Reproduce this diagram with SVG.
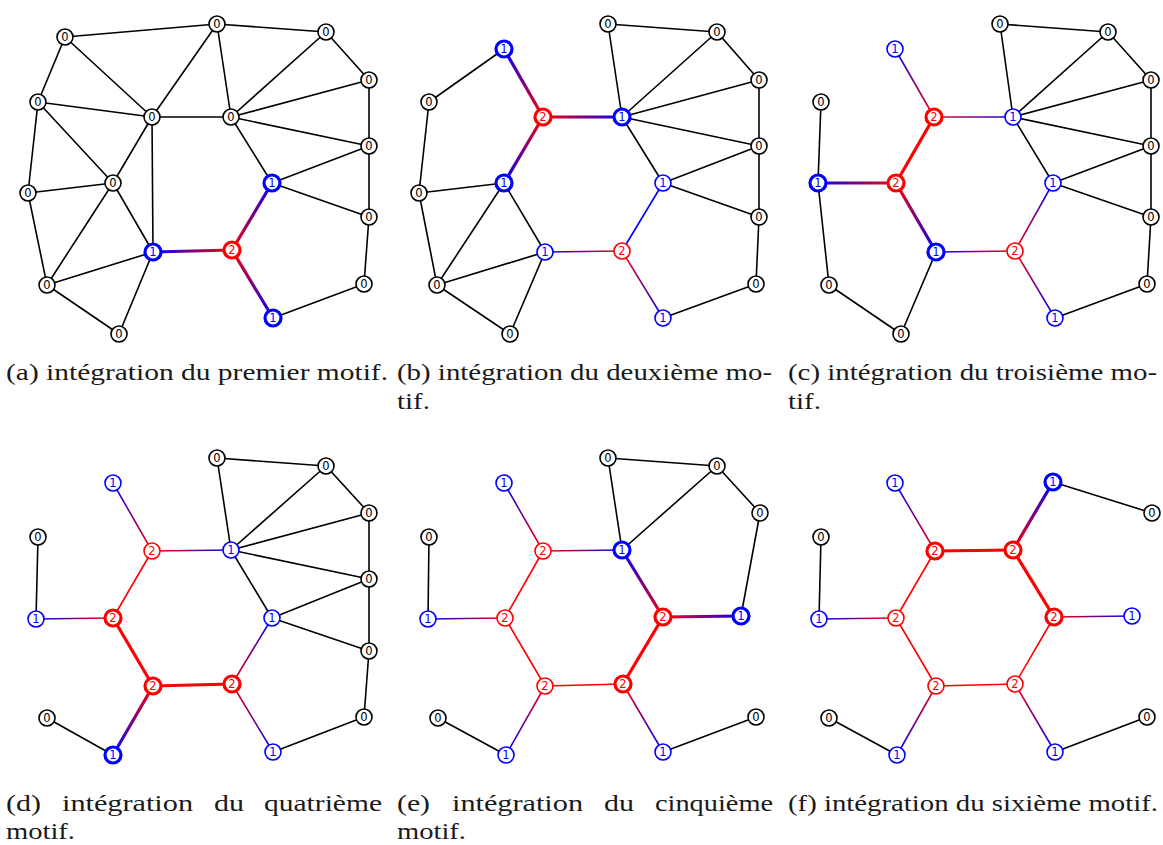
<svg xmlns="http://www.w3.org/2000/svg" xmlns:xlink="http://www.w3.org/1999/xlink" width="1163" height="845" viewBox="0 0 1163 845">
<style>
.ed line{stroke-width:1.6;stroke-linecap:round}
.k{stroke:#000}
.rs{stroke:#f00}
.bs{stroke:#00f}
.T{stroke-width:3.2 !important}
.n circle{fill:#fff;stroke-width:1.6}
.n text{font-family:"DejaVu Sans",sans-serif;font-size:11.5px;text-anchor:middle}
.n0 circle{stroke:#000}.n0 text{fill:#000}
.n1 circle{stroke:#00f}.n1 text{fill:#00f}
.n2 circle{stroke:#f00}.n2 text{fill:#f00}
.nT circle{stroke-width:3.2}
.cap{font-family:"Liberation Serif","Times New Roman",serif;font-size:24px;fill:#1a1a1a}
</style>
<defs>
<linearGradient id="g"><stop offset="0" stop-color="#00f"/><stop offset="1" stop-color="#f00"/></linearGradient>
<linearGradient id="ga1" href="#g" xlink:href="#g" gradientUnits="userSpaceOnUse" x1="153" y1="252" x2="232" y2="250"/>
<linearGradient id="ga2" href="#g" xlink:href="#g" gradientUnits="userSpaceOnUse" x1="272" y1="183" x2="232" y2="250"/>
<linearGradient id="ga3" href="#g" xlink:href="#g" gradientUnits="userSpaceOnUse" x1="273" y1="318" x2="232" y2="250"/>
<linearGradient id="gb1" href="#g" xlink:href="#g" gradientUnits="userSpaceOnUse" x1="504" y1="49" x2="543" y2="117"/>
<linearGradient id="gb2" href="#g" xlink:href="#g" gradientUnits="userSpaceOnUse" x1="622" y1="117" x2="543" y2="117"/>
<linearGradient id="gb3" href="#g" xlink:href="#g" gradientUnits="userSpaceOnUse" x1="504" y1="183" x2="543" y2="117"/>
<linearGradient id="gb4" href="#g" xlink:href="#g" gradientUnits="userSpaceOnUse" x1="545" y1="252" x2="622" y2="251"/>
<linearGradient id="gb5" href="#g" xlink:href="#g" gradientUnits="userSpaceOnUse" x1="663" y1="318" x2="622" y2="251"/>
<linearGradient id="gc1" href="#g" xlink:href="#g" gradientUnits="userSpaceOnUse" x1="895" y1="49" x2="934" y2="117"/>
<linearGradient id="gc2" href="#g" xlink:href="#g" gradientUnits="userSpaceOnUse" x1="1013" y1="117" x2="934" y2="117"/>
<linearGradient id="gc3" href="#g" xlink:href="#g" gradientUnits="userSpaceOnUse" x1="818" y1="183" x2="896" y2="183"/>
<linearGradient id="gc4" href="#g" xlink:href="#g" gradientUnits="userSpaceOnUse" x1="936" y1="252" x2="896" y2="183"/>
<linearGradient id="gc5" href="#g" xlink:href="#g" gradientUnits="userSpaceOnUse" x1="936" y1="252" x2="1015" y2="251"/>
<linearGradient id="gc6" href="#g" xlink:href="#g" gradientUnits="userSpaceOnUse" x1="1053" y1="183" x2="1015" y2="251"/>
<linearGradient id="gc7" href="#g" xlink:href="#g" gradientUnits="userSpaceOnUse" x1="1055" y1="318" x2="1015" y2="251"/>
<linearGradient id="gd1" href="#g" xlink:href="#g" gradientUnits="userSpaceOnUse" x1="113" y1="483" x2="152" y2="551"/>
<linearGradient id="gd2" href="#g" xlink:href="#g" gradientUnits="userSpaceOnUse" x1="231" y1="550" x2="152" y2="551"/>
<linearGradient id="gd3" href="#g" xlink:href="#g" gradientUnits="userSpaceOnUse" x1="36" y1="619" x2="113" y2="618"/>
<linearGradient id="gd4" href="#g" xlink:href="#g" gradientUnits="userSpaceOnUse" x1="272" y1="618" x2="232" y2="684"/>
<linearGradient id="gd5" href="#g" xlink:href="#g" gradientUnits="userSpaceOnUse" x1="273" y1="752" x2="232" y2="684"/>
<linearGradient id="gd6" href="#g" xlink:href="#g" gradientUnits="userSpaceOnUse" x1="113" y1="755" x2="153" y2="686"/>
<linearGradient id="ge1" href="#g" xlink:href="#g" gradientUnits="userSpaceOnUse" x1="504" y1="483" x2="543" y2="551"/>
<linearGradient id="ge2" href="#g" xlink:href="#g" gradientUnits="userSpaceOnUse" x1="622" y1="550" x2="543" y2="551"/>
<linearGradient id="ge3" href="#g" xlink:href="#g" gradientUnits="userSpaceOnUse" x1="428" y1="619" x2="505" y2="618"/>
<linearGradient id="ge4" href="#g" xlink:href="#g" gradientUnits="userSpaceOnUse" x1="506" y1="755" x2="545" y2="686"/>
<linearGradient id="ge5" href="#g" xlink:href="#g" gradientUnits="userSpaceOnUse" x1="663" y1="752" x2="623" y2="684"/>
<linearGradient id="ge6" href="#g" xlink:href="#g" gradientUnits="userSpaceOnUse" x1="622" y1="550" x2="663" y2="617"/>
<linearGradient id="ge7" href="#g" xlink:href="#g" gradientUnits="userSpaceOnUse" x1="741" y1="616" x2="663" y2="617"/>
<linearGradient id="gf1" href="#g" xlink:href="#g" gradientUnits="userSpaceOnUse" x1="895" y1="483" x2="935" y2="551"/>
<linearGradient id="gf2" href="#g" xlink:href="#g" gradientUnits="userSpaceOnUse" x1="819" y1="619" x2="896" y2="618"/>
<linearGradient id="gf3" href="#g" xlink:href="#g" gradientUnits="userSpaceOnUse" x1="1132" y1="616" x2="1054" y2="617"/>
<linearGradient id="gf4" href="#g" xlink:href="#g" gradientUnits="userSpaceOnUse" x1="897" y1="755" x2="936" y2="686"/>
<linearGradient id="gf5" href="#g" xlink:href="#g" gradientUnits="userSpaceOnUse" x1="1055" y1="752" x2="1015" y2="684"/>
<linearGradient id="gf6" href="#g" xlink:href="#g" gradientUnits="userSpaceOnUse" x1="1053" y1="482" x2="1013" y2="550"/>
</defs>
<rect width="1163" height="845" fill="#fff"/>

<g id="connectors" class="ed">
<!-- panel a -->
<line class="k" x1="65" y1="37" x2="217" y2="24"/>
<line class="k" x1="217" y1="24" x2="326" y2="32"/>
<line class="k" x1="326" y1="32" x2="369" y2="80"/>
<line class="k" x1="65" y1="37" x2="38" y2="102"/>
<line class="k" x1="65" y1="37" x2="152" y2="117"/>
<line class="k" x1="217" y1="24" x2="152" y2="117"/>
<line class="k" x1="217" y1="24" x2="231" y2="117"/>
<line class="k" x1="326" y1="32" x2="231" y2="117"/>
<line class="k" x1="369" y1="80" x2="231" y2="117"/>
<line class="k" x1="369" y1="80" x2="369" y2="146"/>
<line class="k" x1="38" y1="102" x2="152" y2="117"/>
<line class="k" x1="38" y1="102" x2="113" y2="183"/>
<line class="k" x1="38" y1="102" x2="28" y2="193"/>
<line class="k" x1="152" y1="117" x2="231" y2="117"/>
<line class="k" x1="152" y1="117" x2="113" y2="183"/>
<line class="k" x1="152" y1="117" x2="153" y2="252"/>
<line class="k" x1="231" y1="117" x2="369" y2="146"/>
<line class="k" x1="231" y1="117" x2="272" y2="183"/>
<line class="k" x1="369" y1="146" x2="272" y2="183"/>
<line class="k" x1="369" y1="146" x2="369" y2="217"/>
<line class="k" x1="272" y1="183" x2="369" y2="217"/>
<line class="k" x1="113" y1="183" x2="28" y2="193"/>
<line class="k" x1="113" y1="183" x2="153" y2="252"/>
<line class="k" x1="113" y1="183" x2="47" y2="285"/>
<line class="k" x1="28" y1="193" x2="47" y2="285"/>
<line class="k" x1="153" y1="252" x2="47" y2="285"/>
<line class="k" x1="153" y1="252" x2="119" y2="334"/>
<line class="k" x1="47" y1="285" x2="119" y2="334"/>
<line class="k" x1="369" y1="217" x2="364" y2="284"/>
<line class="k" x1="364" y1="284" x2="273" y2="318"/>
<line class="T" stroke="url(#ga1)" x1="153" y1="252" x2="232" y2="250"/>
<line class="T" stroke="url(#ga2)" x1="272" y1="183" x2="232" y2="250"/>
<line class="T" stroke="url(#ga3)" x1="273" y1="318" x2="232" y2="250"/>
<!-- panel b -->
<line class="k" x1="608" y1="24" x2="717" y2="32"/>
<line class="k" x1="717" y1="32" x2="759" y2="80"/>
<line class="k" x1="608" y1="24" x2="622" y2="117"/>
<line class="k" x1="717" y1="32" x2="622" y2="117"/>
<line class="k" x1="759" y1="80" x2="622" y2="117"/>
<line class="k" x1="759" y1="80" x2="759" y2="146"/>
<line class="k" x1="622" y1="117" x2="759" y2="146"/>
<line class="k" x1="622" y1="117" x2="663" y2="183"/>
<line class="k" x1="759" y1="146" x2="663" y2="183"/>
<line class="k" x1="759" y1="146" x2="759" y2="217"/>
<line class="k" x1="663" y1="183" x2="759" y2="217"/>
<line class="k" x1="759" y1="217" x2="756" y2="284"/>
<line class="k" x1="756" y1="284" x2="663" y2="318"/>
<line class="k" x1="504" y1="49" x2="429" y2="102"/>
<line class="k" x1="429" y1="102" x2="419" y2="193"/>
<line class="k" x1="504" y1="183" x2="419" y2="193"/>
<line class="k" x1="504" y1="183" x2="545" y2="252"/>
<line class="k" x1="504" y1="183" x2="437" y2="285"/>
<line class="k" x1="419" y1="193" x2="437" y2="285"/>
<line class="k" x1="545" y1="252" x2="437" y2="285"/>
<line class="k" x1="545" y1="252" x2="510" y2="334"/>
<line class="k" x1="437" y1="285" x2="510" y2="334"/>
<line class="T" stroke="url(#gb1)" x1="504" y1="49" x2="543" y2="117"/>
<line class="T" stroke="url(#gb2)" x1="622" y1="117" x2="543" y2="117"/>
<line class="T" stroke="url(#gb3)" x1="504" y1="183" x2="543" y2="117"/>
<line stroke="url(#gb4)" x1="545" y1="252" x2="622" y2="251"/>
<line stroke="url(#gb5)" x1="663" y1="318" x2="622" y2="251"/>
<line class="bs" x1="663" y1="183" x2="622" y2="251"/>
<!-- panel c -->
<line class="k" x1="1000" y1="24" x2="1108" y2="32"/>
<line class="k" x1="1108" y1="32" x2="1151" y2="80"/>
<line class="k" x1="1000" y1="24" x2="1013" y2="117"/>
<line class="k" x1="1108" y1="32" x2="1013" y2="117"/>
<line class="k" x1="1151" y1="80" x2="1013" y2="117"/>
<line class="k" x1="1151" y1="80" x2="1151" y2="146"/>
<line class="k" x1="1013" y1="117" x2="1151" y2="146"/>
<line class="k" x1="1013" y1="117" x2="1053" y2="183"/>
<line class="k" x1="1151" y1="146" x2="1053" y2="183"/>
<line class="k" x1="1151" y1="146" x2="1151" y2="217"/>
<line class="k" x1="1053" y1="183" x2="1151" y2="217"/>
<line class="k" x1="1151" y1="217" x2="1147" y2="284"/>
<line class="k" x1="1147" y1="284" x2="1055" y2="318"/>
<line class="k" x1="821" y1="102" x2="818" y2="183"/>
<line class="k" x1="818" y1="183" x2="829" y2="285"/>
<line class="k" x1="829" y1="285" x2="901" y2="334"/>
<line class="k" x1="936" y1="252" x2="901" y2="334"/>
<line stroke="url(#gc1)" x1="895" y1="49" x2="934" y2="117"/>
<line stroke="url(#gc2)" x1="1013" y1="117" x2="934" y2="117"/>
<line class="rs T" x1="934" y1="117" x2="896" y2="183"/>
<line class="T" stroke="url(#gc3)" x1="818" y1="183" x2="896" y2="183"/>
<line class="T" stroke="url(#gc4)" x1="936" y1="252" x2="896" y2="183"/>
<line stroke="url(#gc5)" x1="936" y1="252" x2="1015" y2="251"/>
<line stroke="url(#gc6)" x1="1053" y1="183" x2="1015" y2="251"/>
<line stroke="url(#gc7)" x1="1055" y1="318" x2="1015" y2="251"/>
<!-- panel d -->
<line class="k" x1="217" y1="458" x2="326" y2="466"/>
<line class="k" x1="326" y1="466" x2="369" y2="513"/>
<line class="k" x1="217" y1="458" x2="231" y2="550"/>
<line class="k" x1="326" y1="466" x2="231" y2="550"/>
<line class="k" x1="369" y1="513" x2="231" y2="550"/>
<line class="k" x1="369" y1="513" x2="369" y2="579"/>
<line class="k" x1="231" y1="550" x2="369" y2="579"/>
<line class="k" x1="231" y1="550" x2="272" y2="618"/>
<line class="k" x1="369" y1="579" x2="272" y2="618"/>
<line class="k" x1="369" y1="579" x2="369" y2="651"/>
<line class="k" x1="272" y1="618" x2="369" y2="651"/>
<line class="k" x1="369" y1="651" x2="364" y2="717"/>
<line class="k" x1="364" y1="717" x2="273" y2="752"/>
<line class="k" x1="38" y1="537" x2="36" y2="619"/>
<line class="k" x1="47" y1="718" x2="113" y2="755"/>
<line stroke="url(#gd1)" x1="113" y1="483" x2="152" y2="551"/>
<line stroke="url(#gd2)" x1="231" y1="550" x2="152" y2="551"/>
<line stroke="url(#gd3)" x1="36" y1="619" x2="113" y2="618"/>
<line class="rs" x1="152" y1="551" x2="113" y2="618"/>
<line class="rs T" x1="113" y1="618" x2="153" y2="686"/>
<line class="rs T" x1="153" y1="686" x2="232" y2="684"/>
<line class="T" stroke="url(#gd6)" x1="113" y1="755" x2="153" y2="686"/>
<line stroke="url(#gd4)" x1="272" y1="618" x2="232" y2="684"/>
<line stroke="url(#gd5)" x1="273" y1="752" x2="232" y2="684"/>
<!-- panel e -->
<line class="k" x1="608" y1="458" x2="717" y2="466"/>
<line class="k" x1="717" y1="466" x2="760" y2="513"/>
<line class="k" x1="608" y1="458" x2="622" y2="550"/>
<line class="k" x1="717" y1="466" x2="622" y2="550"/>
<line class="k" x1="760" y1="513" x2="741" y2="616"/>
<line class="k" x1="429" y1="537" x2="428" y2="619"/>
<line class="k" x1="438" y1="718" x2="506" y2="755"/>
<line class="k" x1="663" y1="752" x2="756" y2="717"/>
<line stroke="url(#ge1)" x1="504" y1="483" x2="543" y2="551"/>
<line stroke="url(#ge2)" x1="622" y1="550" x2="543" y2="551"/>
<line stroke="url(#ge3)" x1="428" y1="619" x2="505" y2="618"/>
<line class="rs" x1="543" y1="551" x2="505" y2="618"/>
<line class="rs" x1="505" y1="618" x2="545" y2="686"/>
<line class="rs" x1="545" y1="686" x2="623" y2="684"/>
<line stroke="url(#ge4)" x1="506" y1="755" x2="545" y2="686"/>
<line stroke="url(#ge5)" x1="663" y1="752" x2="623" y2="684"/>
<line class="T" stroke="url(#ge6)" x1="622" y1="550" x2="663" y2="617"/>
<line class="T" stroke="url(#ge7)" x1="741" y1="616" x2="663" y2="617"/>
<line class="rs T" x1="663" y1="617" x2="623" y2="684"/>
<!-- panel f -->
<line class="k" x1="1053" y1="482" x2="1152" y2="513"/>
<line class="k" x1="821" y1="537" x2="819" y2="619"/>
<line class="k" x1="829" y1="718" x2="897" y2="755"/>
<line class="k" x1="1055" y1="752" x2="1147" y2="717"/>
<line stroke="url(#gf1)" x1="895" y1="483" x2="935" y2="551"/>
<line stroke="url(#gf2)" x1="819" y1="619" x2="896" y2="618"/>
<line stroke="url(#gf3)" x1="1132" y1="616" x2="1054" y2="617"/>
<line stroke="url(#gf4)" x1="897" y1="755" x2="936" y2="686"/>
<line stroke="url(#gf5)" x1="1055" y1="752" x2="1015" y2="684"/>
<line class="rs" x1="935" y1="551" x2="896" y2="618"/>
<line class="rs" x1="896" y1="618" x2="936" y2="686"/>
<line class="rs" x1="936" y1="686" x2="1015" y2="684"/>
<line class="rs" x1="1015" y1="684" x2="1054" y2="617"/>
<line class="rs T" x1="935" y1="551" x2="1013" y2="550"/>
<line class="rs T" x1="1013" y1="550" x2="1054" y2="617"/>
<line class="T" stroke="url(#gf6)" x1="1053" y1="482" x2="1013" y2="550"/>
</g>

<!-- panel a nodes -->
<g id="a1" class="n n0"><circle cx="65" cy="37" r="8"/><text x="65" y="41">0</text></g>
<g id="a2" class="n n0"><circle cx="217" cy="24" r="8"/><text x="217" y="28">0</text></g>
<g id="a3" class="n n0"><circle cx="326" cy="32" r="8"/><text x="326" y="36">0</text></g>
<g id="a4" class="n n0"><circle cx="369" cy="80" r="8"/><text x="369" y="84">0</text></g>
<g id="a5" class="n n0"><circle cx="38" cy="102" r="8"/><text x="38" y="106">0</text></g>
<g id="a6" class="n n0"><circle cx="152" cy="117" r="8"/><text x="152" y="121">0</text></g>
<g id="a7" class="n n0"><circle cx="231" cy="117" r="8"/><text x="231" y="121">0</text></g>
<g id="a8" class="n n0"><circle cx="369" cy="146" r="8"/><text x="369" y="150">0</text></g>
<g id="a9" class="n n0"><circle cx="113" cy="183" r="8"/><text x="113" y="187">0</text></g>
<g id="a10" class="n n0"><circle cx="28" cy="193" r="8"/><text x="28" y="197">0</text></g>
<g id="a11" class="n n1 nT"><circle cx="272" cy="183" r="8"/><text x="272" y="187">1</text></g>
<g id="a12" class="n n0"><circle cx="369" cy="217" r="8"/><text x="369" y="221">0</text></g>
<g id="a13" class="n n1 nT"><circle cx="153" cy="252" r="8"/><text x="153" y="256">1</text></g>
<g id="a14" class="n n2 nT"><circle cx="232" cy="250" r="8"/><text x="232" y="254">2</text></g>
<g id="a15" class="n n0"><circle cx="47" cy="285" r="8"/><text x="47" y="289">0</text></g>
<g id="a16" class="n n0"><circle cx="364" cy="284" r="8"/><text x="364" y="288">0</text></g>
<g id="a17" class="n n1 nT"><circle cx="273" cy="318" r="8"/><text x="273" y="322">1</text></g>
<g id="a18" class="n n0"><circle cx="119" cy="334" r="8"/><text x="119" y="338">0</text></g>

<!-- panel b nodes -->
<g id="b1" class="n n1 nT"><circle cx="504" cy="49" r="8"/><text x="504" y="53">1</text></g>
<g id="b2" class="n n0"><circle cx="608" cy="24" r="8"/><text x="608" y="28">0</text></g>
<g id="b3" class="n n0"><circle cx="717" cy="32" r="8"/><text x="717" y="36">0</text></g>
<g id="b4" class="n n0"><circle cx="759" cy="80" r="8"/><text x="759" y="84">0</text></g>
<g id="b5" class="n n0"><circle cx="429" cy="102" r="8"/><text x="429" y="106">0</text></g>
<g id="b6" class="n n2 nT"><circle cx="543" cy="117" r="8"/><text x="543" y="121">2</text></g>
<g id="b7" class="n n1 nT"><circle cx="622" cy="117" r="8"/><text x="622" y="121">1</text></g>
<g id="b8" class="n n0"><circle cx="759" cy="146" r="8"/><text x="759" y="150">0</text></g>
<g id="b9" class="n n1 nT"><circle cx="504" cy="183" r="8"/><text x="504" y="187">1</text></g>
<g id="b10" class="n n0"><circle cx="419" cy="193" r="8"/><text x="419" y="197">0</text></g>
<g id="b11" class="n n1"><circle cx="663" cy="183" r="8"/><text x="663" y="187">1</text></g>
<g id="b12" class="n n0"><circle cx="759" cy="217" r="8"/><text x="759" y="221">0</text></g>
<g id="b13" class="n n1"><circle cx="545" cy="252" r="8"/><text x="545" y="256">1</text></g>
<g id="b14" class="n n2"><circle cx="622" cy="251" r="8"/><text x="622" y="255">2</text></g>
<g id="b15" class="n n0"><circle cx="437" cy="285" r="8"/><text x="437" y="289">0</text></g>
<g id="b16" class="n n0"><circle cx="756" cy="284" r="8"/><text x="756" y="288">0</text></g>
<g id="b17" class="n n1"><circle cx="663" cy="318" r="8"/><text x="663" y="322">1</text></g>
<g id="b18" class="n n0"><circle cx="510" cy="334" r="8"/><text x="510" y="338">0</text></g>

<!-- panel c nodes -->
<g id="c1" class="n n1"><circle cx="895" cy="49" r="8"/><text x="895" y="53">1</text></g>
<g id="c2" class="n n0"><circle cx="1000" cy="24" r="8"/><text x="1000" y="28">0</text></g>
<g id="c3" class="n n0"><circle cx="1108" cy="32" r="8"/><text x="1108" y="36">0</text></g>
<g id="c4" class="n n0"><circle cx="1151" cy="80" r="8"/><text x="1151" y="84">0</text></g>
<g id="c5" class="n n0"><circle cx="821" cy="102" r="8"/><text x="821" y="106">0</text></g>
<g id="c6" class="n n2 nT"><circle cx="934" cy="117" r="8"/><text x="934" y="121">2</text></g>
<g id="c7" class="n n1"><circle cx="1013" cy="117" r="8"/><text x="1013" y="121">1</text></g>
<g id="c8" class="n n0"><circle cx="1151" cy="146" r="8"/><text x="1151" y="150">0</text></g>
<g id="c9" class="n n2 nT"><circle cx="896" cy="183" r="8"/><text x="896" y="187">2</text></g>
<g id="c10" class="n n1 nT"><circle cx="818" cy="183" r="8"/><text x="818" y="187">1</text></g>
<g id="c11" class="n n1"><circle cx="1053" cy="183" r="8"/><text x="1053" y="187">1</text></g>
<g id="c12" class="n n0"><circle cx="1151" cy="217" r="8"/><text x="1151" y="221">0</text></g>
<g id="c13" class="n n1 nT"><circle cx="936" cy="252" r="8"/><text x="936" y="256">1</text></g>
<g id="c14" class="n n2"><circle cx="1015" cy="251" r="8"/><text x="1015" y="255">2</text></g>
<g id="c15" class="n n0"><circle cx="829" cy="285" r="8"/><text x="829" y="289">0</text></g>
<g id="c16" class="n n0"><circle cx="1147" cy="284" r="8"/><text x="1147" y="288">0</text></g>
<g id="c17" class="n n1"><circle cx="1055" cy="318" r="8"/><text x="1055" y="322">1</text></g>
<g id="c18" class="n n0"><circle cx="901" cy="334" r="8"/><text x="901" y="338">0</text></g>

<!-- panel d nodes -->
<g id="d1" class="n n1"><circle cx="113" cy="483" r="8"/><text x="113" y="487">1</text></g>
<g id="d2" class="n n0"><circle cx="217" cy="458" r="8"/><text x="217" y="462">0</text></g>
<g id="d3" class="n n0"><circle cx="326" cy="466" r="8"/><text x="326" y="470">0</text></g>
<g id="d4" class="n n0"><circle cx="369" cy="513" r="8"/><text x="369" y="517">0</text></g>
<g id="d5" class="n n0"><circle cx="38" cy="537" r="8"/><text x="38" y="541">0</text></g>
<g id="d6" class="n n2"><circle cx="152" cy="551" r="8"/><text x="152" y="555">2</text></g>
<g id="d7" class="n n1"><circle cx="231" cy="550" r="8"/><text x="231" y="554">1</text></g>
<g id="d8" class="n n0"><circle cx="369" cy="579" r="8"/><text x="369" y="583">0</text></g>
<g id="d9" class="n n2 nT"><circle cx="113" cy="618" r="8"/><text x="113" y="622">2</text></g>
<g id="d10" class="n n1"><circle cx="36" cy="619" r="8"/><text x="36" y="623">1</text></g>
<g id="d11" class="n n1"><circle cx="272" cy="618" r="8"/><text x="272" y="622">1</text></g>
<g id="d12" class="n n0"><circle cx="369" cy="651" r="8"/><text x="369" y="655">0</text></g>
<g id="d13" class="n n2 nT"><circle cx="153" cy="686" r="8"/><text x="153" y="690">2</text></g>
<g id="d14" class="n n2 nT"><circle cx="232" cy="684" r="8"/><text x="232" y="688">2</text></g>
<g id="d15" class="n n0"><circle cx="47" cy="718" r="8"/><text x="47" y="722">0</text></g>
<g id="d16" class="n n0"><circle cx="364" cy="717" r="8"/><text x="364" y="721">0</text></g>
<g id="d17" class="n n1"><circle cx="273" cy="752" r="8"/><text x="273" y="756">1</text></g>
<g id="d18" class="n n1 nT"><circle cx="113" cy="755" r="8"/><text x="113" y="759">1</text></g>

<!-- panel e nodes -->
<g id="e1" class="n n1"><circle cx="504" cy="483" r="8"/><text x="504" y="487">1</text></g>
<g id="e2" class="n n0"><circle cx="608" cy="458" r="8"/><text x="608" y="462">0</text></g>
<g id="e3" class="n n0"><circle cx="717" cy="466" r="8"/><text x="717" y="470">0</text></g>
<g id="e4" class="n n0"><circle cx="760" cy="513" r="8"/><text x="760" y="517">0</text></g>
<g id="e5" class="n n0"><circle cx="429" cy="537" r="8"/><text x="429" y="541">0</text></g>
<g id="e6" class="n n2"><circle cx="543" cy="551" r="8"/><text x="543" y="555">2</text></g>
<g id="e7" class="n n1 nT"><circle cx="622" cy="550" r="8"/><text x="622" y="554">1</text></g>
<g id="e9" class="n n2"><circle cx="505" cy="618" r="8"/><text x="505" y="622">2</text></g>
<g id="e10" class="n n1"><circle cx="428" cy="619" r="8"/><text x="428" y="623">1</text></g>
<g id="e11" class="n n2 nT"><circle cx="663" cy="617" r="8"/><text x="663" y="621">2</text></g>
<g id="e12" class="n n1 nT"><circle cx="741" cy="616" r="8"/><text x="741" y="620">1</text></g>
<g id="e13" class="n n2"><circle cx="545" cy="686" r="8"/><text x="545" y="690">2</text></g>
<g id="e14" class="n n2 nT"><circle cx="623" cy="684" r="8"/><text x="623" y="688">2</text></g>
<g id="e15" class="n n0"><circle cx="438" cy="718" r="8"/><text x="438" y="722">0</text></g>
<g id="e16" class="n n0"><circle cx="756" cy="717" r="8"/><text x="756" y="721">0</text></g>
<g id="e17" class="n n1"><circle cx="663" cy="752" r="8"/><text x="663" y="756">1</text></g>
<g id="e18" class="n n1"><circle cx="506" cy="755" r="8"/><text x="506" y="759">1</text></g>

<!-- panel f nodes -->
<g id="f1" class="n n1"><circle cx="895" cy="483" r="8"/><text x="895" y="487">1</text></g>
<g id="f2" class="n n1 nT"><circle cx="1053" cy="482" r="8"/><text x="1053" y="486">1</text></g>
<g id="f3" class="n n0"><circle cx="1152" cy="513" r="8"/><text x="1152" y="517">0</text></g>
<g id="f5" class="n n0"><circle cx="821" cy="537" r="8"/><text x="821" y="541">0</text></g>
<g id="f6" class="n n2 nT"><circle cx="935" cy="551" r="8"/><text x="935" y="555">2</text></g>
<g id="f7" class="n n2 nT"><circle cx="1013" cy="550" r="8"/><text x="1013" y="554">2</text></g>
<g id="f9" class="n n2"><circle cx="896" cy="618" r="8"/><text x="896" y="622">2</text></g>
<g id="f10" class="n n1"><circle cx="819" cy="619" r="8"/><text x="819" y="623">1</text></g>
<g id="f11" class="n n2 nT"><circle cx="1054" cy="617" r="8"/><text x="1054" y="621">2</text></g>
<g id="f12" class="n n1"><circle cx="1132" cy="616" r="8"/><text x="1132" y="620">1</text></g>
<g id="f13" class="n n2"><circle cx="936" cy="686" r="8"/><text x="936" y="690">2</text></g>
<g id="f14" class="n n2"><circle cx="1015" cy="684" r="8"/><text x="1015" y="688">2</text></g>
<g id="f15" class="n n0"><circle cx="829" cy="718" r="8"/><text x="829" y="722">0</text></g>
<g id="f16" class="n n0"><circle cx="1147" cy="717" r="8"/><text x="1147" y="721">0</text></g>
<g id="f17" class="n n1"><circle cx="1055" cy="752" r="8"/><text x="1055" y="756">1</text></g>
<g id="f18" class="n n1"><circle cx="897" cy="755" r="8"/><text x="897" y="759">1</text></g>

<!-- captions -->
<g id="captions" class="cap">
<text x="6" y="380" textLength="382" lengthAdjust="spacingAndGlyphs">(a) intégration du premier motif.</text>
<text x="397" y="380" textLength="375" lengthAdjust="spacingAndGlyphs">(b) intégration du deuxième mo-</text>
<text x="397" y="409" textLength="33" lengthAdjust="spacingAndGlyphs">tif.</text>
<text x="788" y="380" textLength="369" lengthAdjust="spacingAndGlyphs">(c) intégration du troisième mo-</text>
<text x="788" y="409" textLength="33" lengthAdjust="spacingAndGlyphs">tif.</text>
<text x="6" y="811" textLength="35" lengthAdjust="spacingAndGlyphs">(d)</text>
<text x="62" y="811" textLength="131" lengthAdjust="spacingAndGlyphs">intégration</text>
<text x="214" y="811" textLength="30" lengthAdjust="spacingAndGlyphs">du</text>
<text x="264" y="811" textLength="118" lengthAdjust="spacingAndGlyphs">quatrième</text>
<text x="6" y="839" textLength="69" lengthAdjust="spacingAndGlyphs">motif.</text>
<text x="397" y="811" textLength="33" lengthAdjust="spacingAndGlyphs">(e)</text>
<text x="452" y="811" textLength="131" lengthAdjust="spacingAndGlyphs">intégration</text>
<text x="604" y="811" textLength="30" lengthAdjust="spacingAndGlyphs">du</text>
<text x="655" y="811" textLength="118" lengthAdjust="spacingAndGlyphs">cinquième</text>
<text x="397" y="839" textLength="69" lengthAdjust="spacingAndGlyphs">motif.</text>
<text x="788" y="811" textLength="370" lengthAdjust="spacingAndGlyphs">(f) intégration du sixième motif.</text>
</g>
</svg>
